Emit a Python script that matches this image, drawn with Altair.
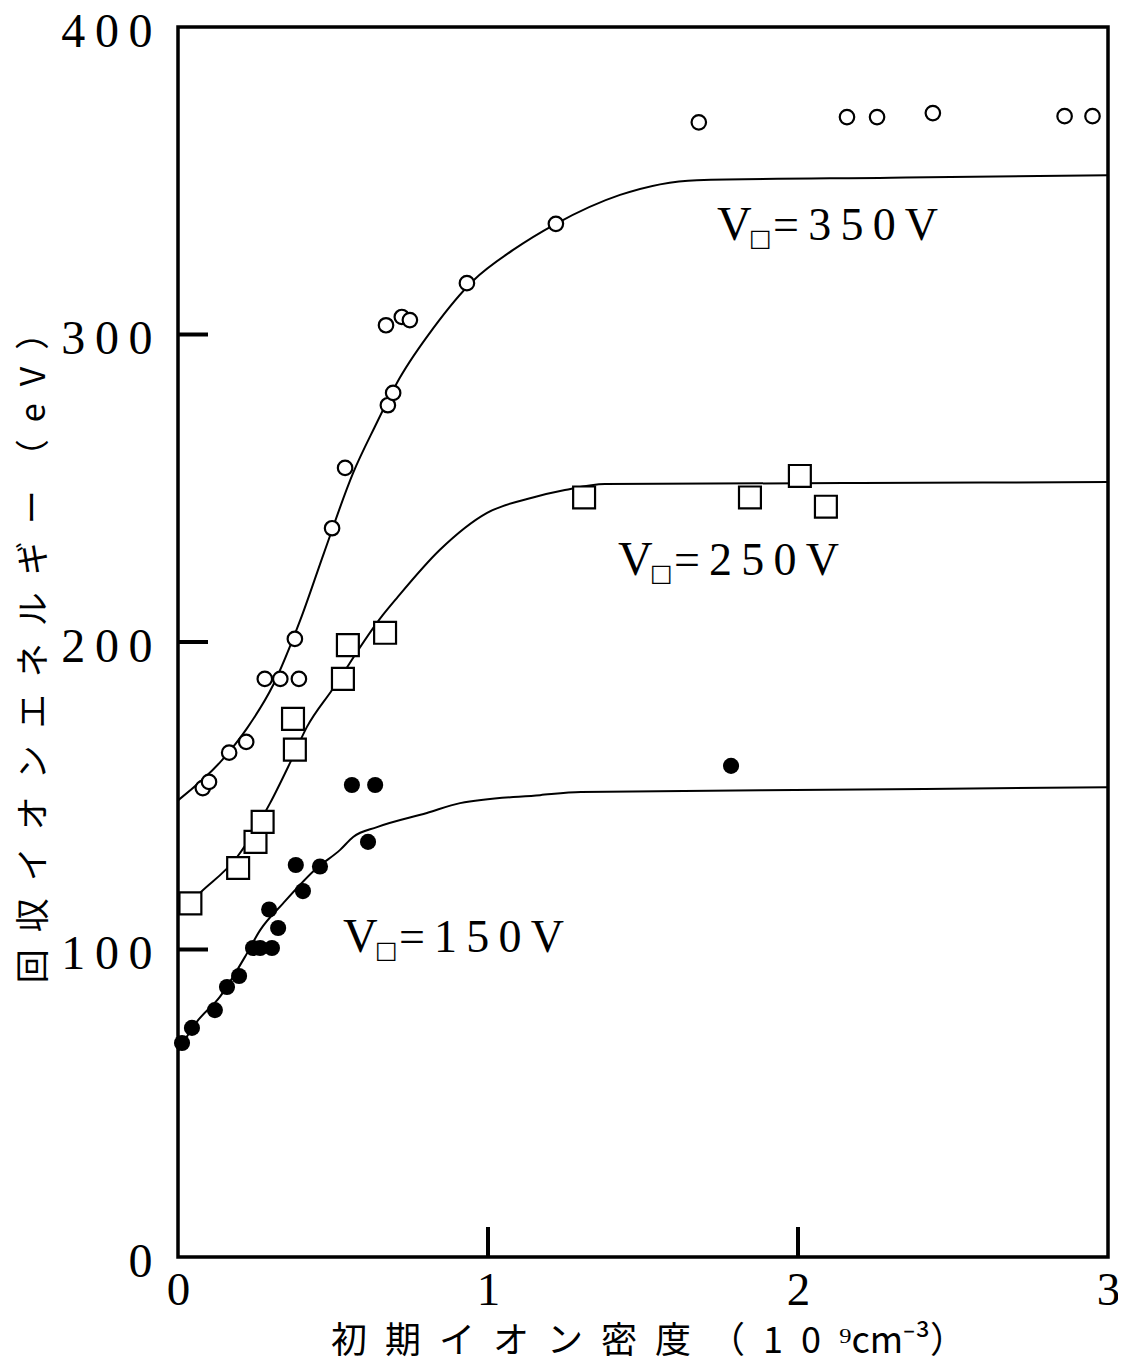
import altair as alt
import pandas as pd

# ---------------- data ----------------
# V = 350 V (open circles)
c350_x = [0.08, 0.10, 0.165, 0.22, 0.28, 0.33, 0.39, 0.377, 0.497, 0.539, 0.677, 0.694,
          0.671, 0.722, 0.748, 0.932, 1.219, 1.68, 2.158, 2.255, 2.435, 2.86, 2.95]
c350_y = [152.5, 154.5, 164, 167.5, 188, 188, 188, 201, 237, 256.6, 277, 281,
          303, 305.7, 304.7, 316.7, 336, 369, 370.7, 370.7, 372, 371, 371]

# V = 250 V (open squares)
s250_x = [0.04, 0.194, 0.25, 0.273, 0.377, 0.371, 0.532, 0.548, 0.668, 1.31, 1.845, 2.006, 2.09]
s250_y = [115, 126.5, 135, 141.5, 165, 175, 188, 199, 203, 247, 247, 254, 244]

# V = 150 V (filled circles)
f150_x = [0.013, 0.045, 0.119, 0.158, 0.197, 0.242, 0.265, 0.303, 0.323, 0.294, 0.403,
          0.38, 0.458, 0.613, 0.561, 0.636, 1.784]
f150_y = [69.6, 74.5, 80.3, 87.8, 91.4, 100.5, 100.5, 100.5, 107, 113, 119,
          127.5, 127, 135, 153.5, 153.5, 159.7]

# hand-drawn fitted curves
curve350_x = [0, 0.142, 0.223, 0.307, 0.394, 0.471, 0.565, 0.635, 0.716, 0.823, 0.952,
              1.081, 1.219, 1.426, 1.674, 2.3, 3.0]
curve350_y = [148.5, 161.6, 172, 186, 207, 229, 255, 270, 286, 302, 317.5,
              327.5, 336, 345.4, 350.2, 351, 351.8]
curve250_x = [0, 0.071, 0.19, 0.297, 0.361, 0.416, 0.497, 0.661, 0.706, 0.845, 0.997,
              1.145, 1.248, 1.377, 2.2, 3.0]
curve250_y = [111.5, 118.4, 130, 147.6, 160.6, 172.4, 184.4, 208.8, 214.3, 230, 242,
              247, 249.4, 251.4, 251.7, 252]
curve150_x = [0, 0.06, 0.135, 0.216, 0.265, 0.339, 0.448, 0.523, 0.565, 0.642, 0.803,
              0.91, 1.168, 1.3, 2.2, 3.0]
curve150_y = [67, 76.4, 84.6, 97.6, 106.3, 115, 126.5, 132.4, 136.6, 139.8, 144.4,
              147.6, 150.2, 151.2, 152, 152.8]

# annotation labels "V□=xxxV" (left edge of V, baseline)
ann_x = [1.739, 1.419, 0.532]
ann_y = [330.7, 221.8, 99.2]
ann_head = ["V", "V", "V"]
ann_sub = ["□", "□", "□"]
ann_tail = ["=\u20093\u20095\u20090\u2009V", "=\u20092\u20095\u20090\u2009V", "=\u20091\u20095\u20090\u2009V"]

# axes
x_ticks_inner = [1, 2]
y_ticks_inner = [100, 200, 300]
x_label_values = [0, 1, 2, 3]
y_label_values = [0, 100, 200, 300, 400]
x_title_chars = ["初", "期", "イ", "オ", "ン", "密", "度", "（", "1", "0", "⁹cm⁻³）"]
y_title_chars = ["回", "収", "イ", "オ", "ン", "エ", "ネ", "ル", "ギ", "ー", "（", "e", "V", "）"]

# ---------------- chart ----------------
W, H = 930, 1230
NUM_FONT = "Liberation Serif, serif"
JP_FONT = "Noto Sans CJK JP"
SP = "\u2002"

xscale = alt.Scale(domain=[0, 3], nice=False, zero=False)
yscale = alt.Scale(domain=[0, 400], nice=False, zero=False)

x_axis = alt.Axis(values=x_label_values, domain=False, ticks=False, tickSize=0, grid=False,
                  labelFont=NUM_FONT, labelFontSize=47, labelColor="black",
                  labelPadding=10, labelBaseline="top", labelFlush=False,
                  title=SP.join(x_title_chars), titleFont=JP_FONT, titleFontSize=36,
                  titleFontWeight="normal", titleColor="black",
                  titleX=470, titleY=84, titleAlign="center", titleBaseline="middle")
y_axis = alt.Axis(values=y_label_values, domain=False, ticks=False, tickSize=0, grid=False,
                  labelFont=NUM_FONT, labelFontSize=48, labelColor="black",
                  labelPadding=26, labelFlush=False, labelOffset=5,
                  labelExpr="join(split(datum.label, ''), '\u2009')",
                  title=SP.join(y_title_chars), titleFont=JP_FONT, titleFontSize=34,
                  titleFontWeight="normal", titleColor="black", titleAngle=270,
                  titleX=-144, titleY=622, titleAlign="center", titleBaseline="middle")

def X(field="x"):
    return alt.X(f"{field}:Q", scale=xscale, axis=x_axis)

def Y(field="y"):
    return alt.Y(f"{field}:Q", scale=yscale, axis=y_axis)

curves = pd.concat([
    pd.DataFrame({"x": curve350_x, "y": curve350_y, "s": "350"}),
    pd.DataFrame({"x": curve250_x, "y": curve250_y, "s": "250"}),
    pd.DataFrame({"x": curve150_x, "y": curve150_y, "s": "150"}),
])
lines = alt.Chart(curves).mark_line(color="black", strokeWidth=2, interpolate="monotone").encode(
    x=X(), y=Y(), detail="s:N")

open_c = alt.Chart(pd.DataFrame({"x": c350_x, "y": c350_y})).mark_point(
    shape="circle", filled=True, fill="white", stroke="black", strokeWidth=2.2, size=210, opacity=1
).encode(x=X(), y=Y())

squares = alt.Chart(pd.DataFrame({"x": s250_x, "y": s250_y})).mark_point(
    shape="square", filled=True, fill="white", stroke="black", strokeWidth=2.2, size=480, opacity=1
).encode(x=X(), y=Y())

filled_c = alt.Chart(pd.DataFrame({"x": f150_x, "y": f150_y})).mark_circle(
    color="black", size=260, opacity=1).encode(x=X(), y=Y())

ytick_rules = alt.Chart(pd.DataFrame({"y": y_ticks_inner})).mark_rule(
    color="black", strokeWidth=4).encode(y=Y(), x=alt.value(0), x2=alt.value(30))
xtick_rules = alt.Chart(pd.DataFrame({"x": x_ticks_inner})).mark_rule(
    color="black", strokeWidth=4).encode(x=X(), y=alt.value(H), y2=alt.value(H - 30))

ann = pd.DataFrame({"x": ann_x, "y": ann_y, "head": ann_head, "sub": ann_sub, "tail": ann_tail})
ann_head_l = alt.Chart(ann).mark_text(font=NUM_FONT, fontSize=48, align="left",
                                      baseline="alphabetic", color="black").encode(
    x=X(), y=Y(), text="head:N")
ann_sub_l = alt.Chart(ann).mark_text(font="DejaVu Sans", fontSize=24, fontWeight="bold",
                                     align="left", baseline="alphabetic", color="black",
                                     dx=32, dy=6).encode(
    x=X(), y=Y(), text="sub:N")
ann_tail_l = alt.Chart(ann).mark_text(font=NUM_FONT, fontSize=46, align="left",
                                      baseline="alphabetic", color="black", dx=56).encode(
    x=X(), y=Y(), text="tail:N")

chart = alt.layer(
    lines, ytick_rules, xtick_rules, open_c, squares, filled_c, ann_head_l, ann_sub_l, ann_tail_l
).properties(
    width=W, height=H,
    autosize=alt.AutoSizeParams(type="none"),
    padding={"left": 170, "top": 19, "right": 10, "bottom": 105},
    background="white",
).configure_view(stroke="black", strokeWidth=3.5)

chart.save("out.html", embed_options={"renderer": "svg", "actions": False})
